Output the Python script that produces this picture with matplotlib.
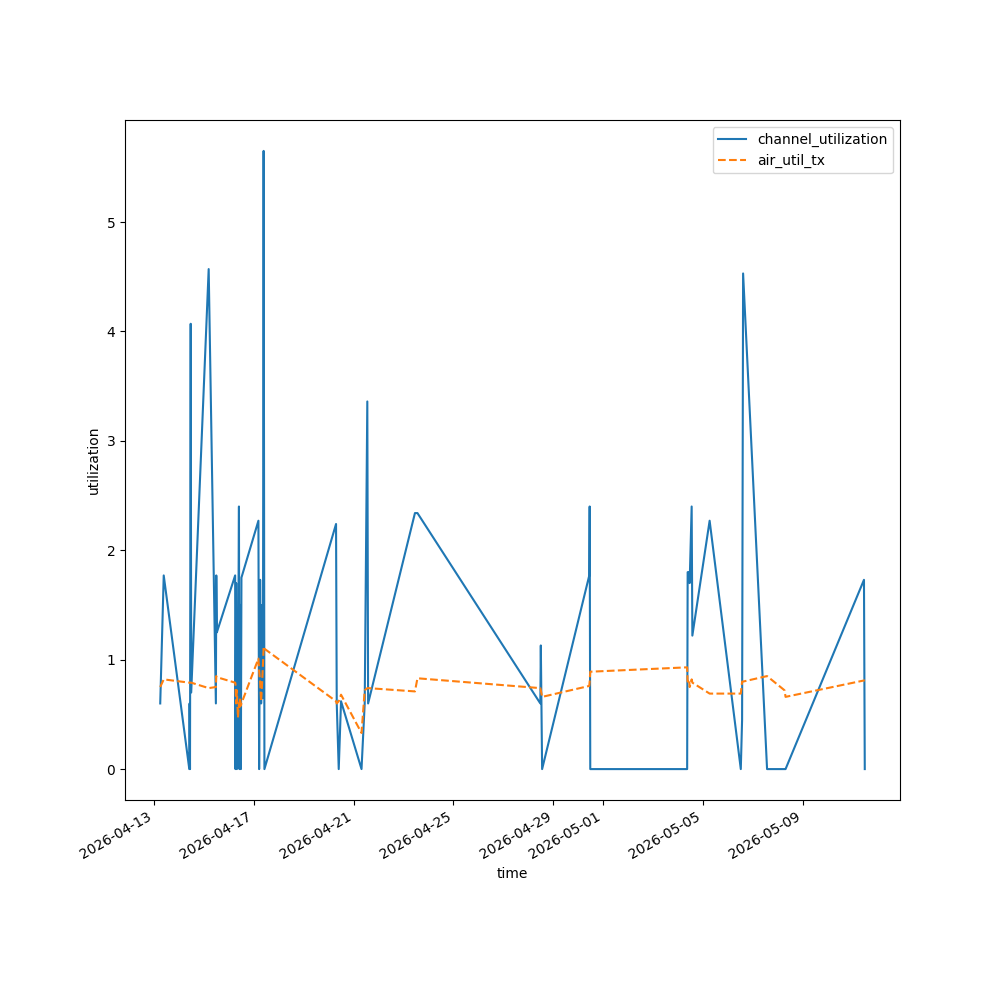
import matplotlib
matplotlib.use("Agg")
import matplotlib.pyplot as plt
import pandas as pd

times = [
    "2026-04-13 06:14", "2026-04-13 09:36", "2026-04-14 10:10", "2026-04-14 10:28",
    "2026-04-14 10:51", "2026-04-14 11:31", "2026-04-14 12:00", "2026-04-15 04:48",
    "2026-04-15 11:43", "2026-04-15 12:06", "2026-04-15 12:40", "2026-04-16 06:14",
    "2026-04-16 06:32", "2026-04-16 07:12", "2026-04-16 07:52", "2026-04-16 08:56",
    "2026-04-16 09:53", "2026-04-16 10:22", "2026-04-16 11:08", "2026-04-16 11:43",
    "2026-04-16 12:17", "2026-04-17 04:36", "2026-04-17 05:17", "2026-04-17 06:14",
    "2026-04-17 07:12", "2026-04-17 07:58", "2026-04-17 08:56", "2026-04-17 09:36",
    "2026-04-17 10:22", "2026-04-20 07:12", "2026-04-20 07:52", "2026-04-20 09:47",
    "2026-04-20 12:00", "2026-04-21 07:41", "2026-04-21 10:45", "2026-04-21 13:15",
    "2026-04-21 14:01", "2026-04-23 11:02", "2026-04-23 13:26", "2026-04-28 11:31",
    "2026-04-28 12:00", "2026-04-28 13:15", "2026-04-30 10:34", "2026-04-30 10:57",
    "2026-04-30 11:31", "2026-05-04 08:38", "2026-05-04 09:07", "2026-05-04 10:34",
    "2026-05-04 11:02", "2026-05-04 12:58", "2026-05-04 13:38", "2026-05-05 06:14",
    "2026-05-06 12:11", "2026-05-06 13:26", "2026-05-06 14:24", "2026-05-07 13:26",
    "2026-05-08 06:14", "2026-05-08 07:12", "2026-05-11 10:34", "2026-05-11 11:20",
]

channel_utilization = [
    0.6, 1.77, 0.0, 0.6,
    0.0, 4.07, 0.7, 4.57,
    0.6, 1.77, 1.25, 1.77,
    0.0, 1.7, 0.0, 0.6,
    2.4, 0.0, 1.5, 0.0,
    1.75, 2.27, 0.0, 1.73,
    0.6, 1.5, 0.65, 5.65,
    0.0, 2.24, 0.6, 0.0,
    0.62, 0.0, 0.6, 3.36,
    0.6, 2.34, 2.34, 0.6,
    1.13, 0.0, 1.77, 2.4,
    0.0, 0.0, 1.8, 1.8,
    1.7, 2.4, 1.22, 2.27,
    0.0, 0.45, 4.53, 0.0,
    0.0, 0.0, 1.73, 0.0,
]

air_util_tx = [
    0.75, 0.82, 0.79, 0.79,
    0.79, 0.79, 0.79, 0.74,
    0.75, 0.85, 0.84, 0.79,
    0.78, 0.6, 0.72, 0.47,
    0.6, 0.55, 0.65, 0.58,
    0.6, 1.01, 0.9, 0.8,
    0.62, 0.75, 0.95, 1.12,
    1.1, 0.62, 0.6, 0.62,
    0.68, 0.33, 0.72, 0.74,
    0.74, 0.71, 0.83, 0.74,
    0.72, 0.66, 0.76, 0.8,
    0.89, 0.93, 0.8, 0.82,
    0.75, 0.82, 0.79, 0.69,
    0.69, 0.8, 0.8, 0.85,
    0.72, 0.66, 0.81, 0.81,
]

t = pd.to_datetime(times).to_pydatetime()

fig, ax = plt.subplots(figsize=(10, 10), dpi=100)
ax.plot(t, channel_utilization, "-", color="#1f77b4", label="channel_utilization")
ax.plot(t, air_util_tx, "--", color="#ff7f0e", label="air_util_tx")
ax.set_xlabel("time")
ax.set_ylabel("utilization")
ax.legend(loc="upper right")
fig.autofmt_xdate()
fig.savefig("out.png", dpi=100)
